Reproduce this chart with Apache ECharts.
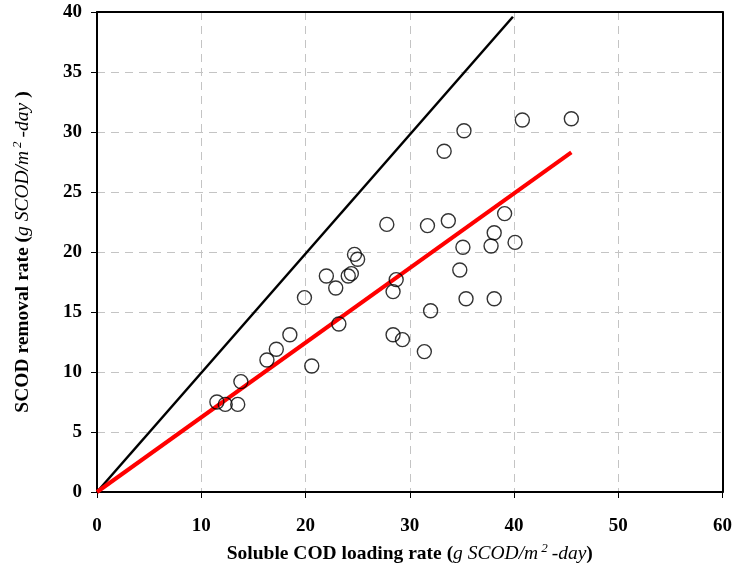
<!DOCTYPE html>
<html>
<head>
<meta charset="utf-8">
<script src="https://cdn.jsdelivr.net/npm/echarts@6/dist/echarts.min.js"></script>
<style>
  html, body { margin: 0; padding: 0; background: #fff; }
  #chart { width: 735px; height: 569px; }
</style>
</head>
<body>
<div id="chart"></div>
<script>
// Measured soluble COD loading rate (x) and SCOD removal rate (y), g SCOD/m2-day
const loadingRate = [
  11.5, 12.3, 13.5, 13.8, 16.3, 17.2, 18.5, 20.6, 19.9, 22.0,
  22.9, 23.2, 24.1, 24.4, 24.7, 25.0, 27.8, 28.7, 28.4, 28.4,
  29.3, 31.4, 32.0, 31.7, 33.3, 35.2, 33.7, 35.1, 34.8, 35.4,
  38.1, 37.8, 38.1, 39.1, 40.1, 40.8, 45.5
];
const removalRate = [
  7.5, 7.3, 7.3, 9.2, 11.0, 11.9, 13.1, 10.5, 16.2, 18.0,
  17.0, 14.0, 18.0, 18.2, 19.8, 19.4, 22.3, 17.7, 16.7, 13.1,
  12.7, 11.7, 15.1, 22.2, 28.4, 30.1, 22.6, 20.4, 18.5, 16.1,
  16.1, 20.5, 21.6, 23.2, 20.8, 31.0, 31.1
];
// 1:1 reference line and fitted removal line endpoints
const onetoOneX = [0, 39.9];
const onetoOneY = [0, 39.6];
const fitX = [0, 45.5];
const fitY = [0, 28.3];

const xTicks = [0, 10, 20, 30, 40, 50, 60];
const yTicks = [0, 5, 10, 15, 20, 25, 30, 35, 40];

const pts = loadingRate.map((x, i) => [x, removalRate[i]]);
const pair = (xs, ys) => xs.map((x, i) => [x, ys[i]]);

const font = '"Liberation Serif", "Times New Roman", serif';
const nameRich = {
  b: { fontFamily: font, fontWeight: 'bold', fontSize: 19.5, color: '#000' },
  i: { fontFamily: font, fontStyle: 'italic', fontSize: 19.5, color: '#000' },
  sup: { fontFamily: font, fontStyle: 'italic', fontSize: 13, color: '#000', verticalAlign: 'top', padding: [0, 4, 10, 3] }
};
const tickFont = { fontFamily: font, fontWeight: 'bold', fontSize: 19, color: '#000' };
const gridLine = { show: true, lineStyle: { color: '#c4c4c4', type: [8, 6], width: 1 } };
const frame = { show: true, onZero: false, lineStyle: { color: '#000', width: 2 } };
const tick = { show: true, inside: false, length: 6, lineStyle: { color: '#000', width: 1 } };

const chart = echarts.init(document.getElementById('chart'), null, { renderer: 'canvas' });
chart.setOption({
  animation: false,
  backgroundColor: '#fff',
  grid: { left: 97, top: 12, right: 12, bottom: 77 },
  xAxis: [
    {
      type: 'value', min: xTicks[0], max: xTicks[xTicks.length - 1], interval: 10,
      name: '{b|Soluble COD loading rate (}{i|g SCOD/m}{sup|2}{i|-day}{b|)}',
      nameLocation: 'middle', nameGap: 50,
      nameTextStyle: { rich: nameRich },
      axisLine: frame, axisTick: tick,
      axisLabel: Object.assign({ margin: 25 }, tickFont),
      splitLine: gridLine
    },
    {
      type: 'value', position: 'top', min: xTicks[0], max: xTicks[xTicks.length - 1], interval: 10,
      axisLine: frame, axisTick: { show: false }, axisLabel: { show: false }, splitLine: { show: false }
    }
  ],
  yAxis: [
    {
      type: 'value', min: yTicks[0], max: yTicks[yTicks.length - 1], interval: 5,
      name: '{b|SCOD removal rate (}{i|g SCOD/m}{sup|2}{i|-day }{b|)}',
      nameLocation: 'middle', nameGap: 63, nameRotate: 90,
      nameTextStyle: { rich: nameRich },
      axisLine: frame, axisTick: tick,
      axisLabel: Object.assign({ margin: 15 }, tickFont),
      splitLine: gridLine
    },
    {
      type: 'value', position: 'right', min: yTicks[0], max: yTicks[yTicks.length - 1], interval: 5,
      axisLine: frame, axisTick: { show: false }, axisLabel: { show: false }, splitLine: { show: false }
    }
  ],
  series: [
    {
      type: 'line', data: pair(onetoOneX, onetoOneY), showSymbol: false, symbol: 'none',
      lineStyle: { color: '#000', width: 2.5 }, z: 3
    },
    {
      type: 'line', data: pair(fitX, fitY), showSymbol: false, symbol: 'none',
      lineStyle: { color: '#ff0000', width: 4 }, z: 4
    },
    {
      type: 'scatter', data: pts, symbol: 'circle', symbolSize: 14,
      itemStyle: { color: 'rgba(255,255,255,0)', borderColor: '#000', borderWidth: 1.4 }, z: 5
    }
  ]
});
</script>
</body>
</html>
